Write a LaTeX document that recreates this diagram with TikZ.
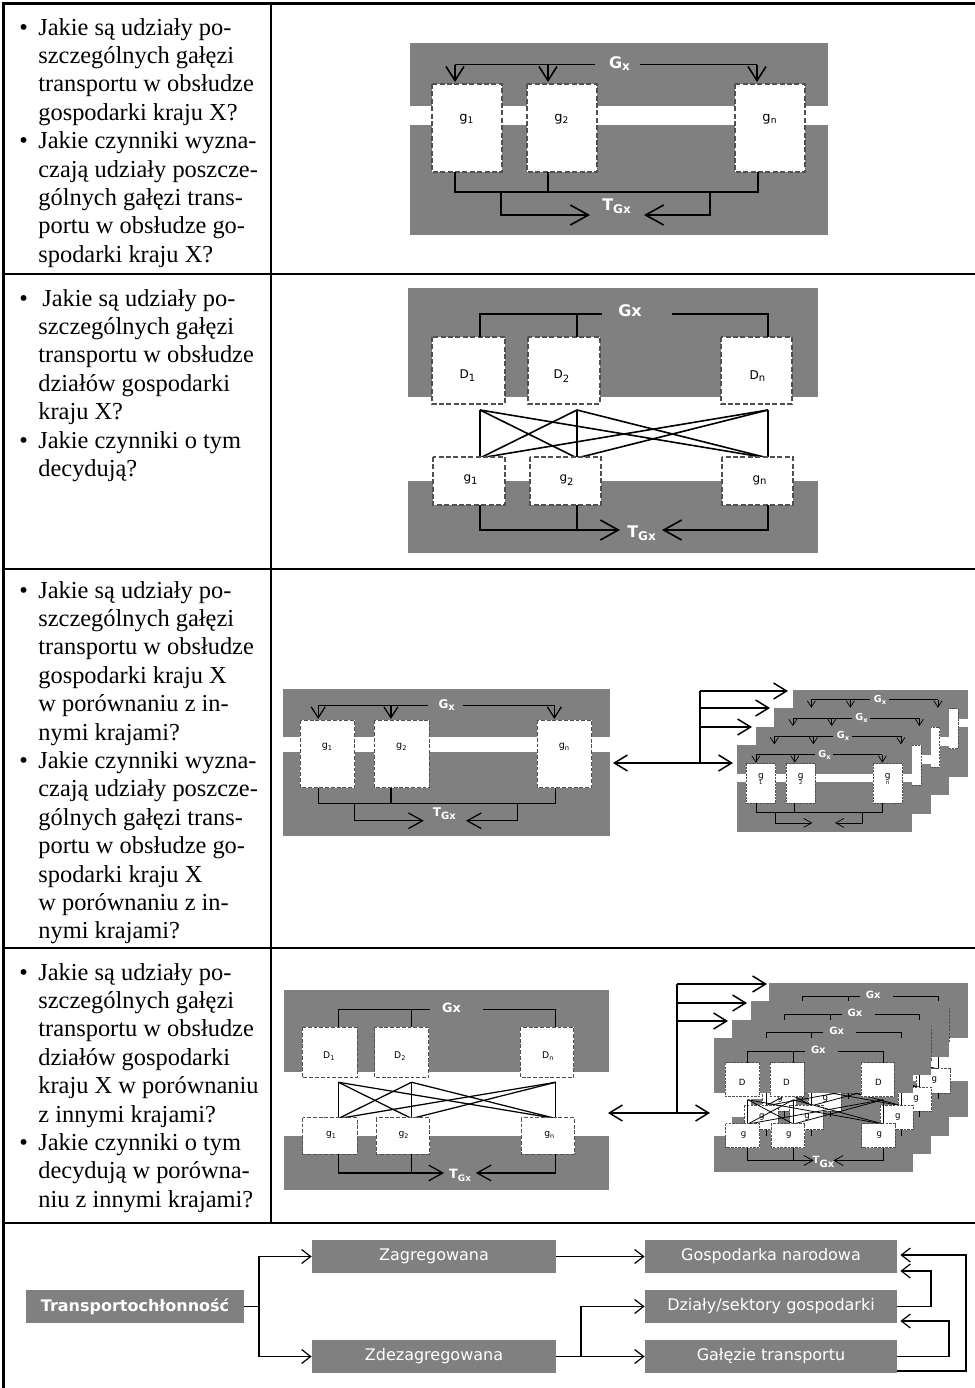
\documentclass[tikz,border=0pt]{standalone}
\usepackage{fontspec}
\setmainfont{Liberation Serif}
\newfontfamily\dvs{DejaVu Sans}
\usetikzlibrary{arrows.meta}
\definecolor{dgray}{RGB}{128,128,128}
\definecolor{boxedge}{RGB}{80,80,80}

\newcommand\bl{\makebox[9.5pt][l]{\textbullet}}
\newcommand\ind{\hspace*{9.5pt}}

% diagram settings: #1 scale of lines/arrows, #2 small label size, #3 bold label size
\newcommand\setd[3]{%
 \pgfmathsetmacro\dtA{0.8*#1}%
 \pgfmathsetmacro\dtB{0.65*#1}%
 \pgfmathsetmacro\dtC{2.5*#1}%
 \pgfmathsetmacro\dtD{1.2*#1}%
 \pgfmathsetmacro\dtE{7*#1}%
 \pgfmathsetmacro\dtF{9*#1}%
 \pgfmathsetmacro\dtG{9*#1}%
 \pgfmathsetmacro\dtH{10*#1}%
 \edef\dtmp{\noexpand\tikzset{%
   dln/.style={line width=\dtA pt},
   dbox/.style={draw=boxedge,fill=white,line width=\dtB pt,dash pattern=on \dtC pt off \dtD pt},
   dtipT/.style={-{Straight Barb[length=\dtE pt,width=\dtF pt]}},
   dtip/.style={-{Straight Barb[length=\dtG pt,width=\dtH pt]}},
   dlab/.style={font=\noexpand\dvs\noexpand\fontsize{#2}{#2}\noexpand\selectfont,inner sep=0pt,align=center},
   dbig/.style={font=\noexpand\dvs\noexpand\bfseries\noexpand\fontsize{#3}{#3}\noexpand\selectfont,text=white,inner sep=0pt}}}%
 \dtmp}

% diagram type A (branches of transport): #1 prefix, #2 x0, #3 y0, #4 xscale, #5 yscale
\newcommand\diagA[5]{%
\begin{scope}[shift={(#2,#3)},xscale=#4,yscale=#5]
 \fill[dgray] (0,0) rectangle (\dW,192);
 \fill[white] (0,63) rectangle (\dW,82);
 \draw[dbox] (22,41) rectangle (92,129);
 \draw[dbox] (117,41) rectangle (187,129);
 \draw[dbox] (325,41) rectangle (395,129);
 \node[dlab] (#1a) at (57,76) {\LgA};
 \node[dlab] (#1b) at (152,76) {\LgB};
 \node[dlab] (#1n) at (360,76) {\LgN};
 \node[dbig] (#1G) at (210,21) {\LGx};
 \draw[dln] (45,21.5) -- (185,21.5) (230,21.5) -- (347,21.5);
 \foreach \xx in {45,138,347} \draw[dln,dtipT] (\xx,21.5) -- (\xx,39);
 \draw[dln] (45,129) -- (45,149) -- (348,149) -- (348,129) (138,129) -- (138,149);
 \draw[dln,dtip] (91,149) -- (91,172) -- (180,172);
 \draw[dln,dtip] (300,149) -- (300,172) -- (234,172);
 \node[dbig] (#1T) at (207,163) {\LTgx};
\end{scope}}

% diagram type B (sectors and branches)
\newcommand\diagB[5]{%
\begin{scope}[shift={(#2,#3)},xscale=#4,yscale=#5]
 \fill[dgray] (0,0) rectangle (\dW,109);
 \fill[dgray] (0,193) rectangle (\dW,265);
 \draw[dbox] (24,49) rectangle (97,116);
 \draw[dbox] (120,49) rectangle (192,116);
 \draw[dbox] (313,49) rectangle (384,116);
 \node[dlab] (#1d1) at (60,88) {\LDa};
 \node[dlab] (#1d2) at (154,88) {\LDb};
 \node[dlab] (#1dn) at (350,88) {\LDn};
 \node[dbig] (#1G) at (222,23) {\LGx};
 \draw[dln] (72,49) -- (72,26) -- (194,26) (169,26) -- (169,49) (264,26) -- (360,26) -- (360,49);
 \foreach \xa in {72,169,360}{\foreach \xb in {72,169,360}{\draw[dln] (\xa,122) -- (\xb,170);}}
 \draw[dbox] (25,169) rectangle (97,217);
 \draw[dbox] (122,169) rectangle (193,217);
 \draw[dbox] (314,169) rectangle (385,217);
 \node[dlab] (#1g1) at (63,192) {\LgA};
 \node[dlab] (#1g2) at (159,192) {\LgB};
 \node[dlab] (#1gn) at (352,192) {\LgN};
 \draw[dln,dtip] (72,217) -- (72,242) -- (212,242);
 \draw[dln] (169,217) -- (169,242);
 \draw[dln,dtip] (360,217) -- (360,242) -- (254,242);
 \node[dbig] (#1T) at (234,245) {\LTgx};
\end{scope}}

\tikzset{
 tline/.style={line width=1.3pt, black},
 qtext/.style={anchor=base west, inner sep=0pt, font=\fontsize{12.2}{14.2}\selectfont},
 rbox/.style={fill=dgray, text=white, font=\dvs\fontsize{8}{9}\selectfont, minimum height=16.5pt, inner sep=0pt},
 rln/.style={line width=0.6pt},
 rarr/.style={line width=0.6pt, -{Straight Barb[length=4.5pt,width=7pt]}},
 cln/.style={line width=0.75pt},
 carr/.style={line width=0.75pt, -{Straight Barb[length=6.5pt,width=8pt]}},
 cdbl/.style={line width=0.75pt, {Straight Barb[length=6.5pt,width=8pt]}-{Straight Barb[length=6.5pt,width=8pt]}},
}

\begin{document}
\begin{tikzpicture}[x=0.5pt,y=-0.5pt]
\useasboundingbox (0,0) rectangle (975,1388);

% ---------- table ----------
\draw[tline] (3.5,1388) -- (3.5,3.5) -- (975,3.5);
\draw[tline] (271,3.5) -- (271,1223);
\foreach \yy in {274,569,948,1223} \draw[tline] (3.5,\yy) -- (975,\yy);

% ---------- questions ----------
\node[qtext] (q1) at (19,35) {\begin{tabular}[t]{@{}l@{}}
\bl Jakie są udziały po-\\
\ind szczególnych gałęzi\\
\ind transportu w obsłudze\\
\ind gospodarki kraju X?\\
\bl Jakie czynniki wyzna-\\
\ind czają udziały poszcze-\\
\ind gólnych gałęzi trans-\\
\ind portu w obsłudze go-\\
\ind spodarki kraju X?
\end{tabular}};

\node[qtext] (q2) at (19,306) {\begin{tabular}[t]{@{}l@{}}
\bl\hspace{2pt}Jakie są udziały po-\\
\ind szczególnych gałęzi\\
\ind transportu w obsłudze\\
\ind działów gospodarki\\
\ind kraju X?\\
\bl Jakie czynniki o tym\\
\ind decydują?
\end{tabular}};

\node[qtext] (q3) at (19,598) {\begin{tabular}[t]{@{}l@{}}
\bl Jakie są udziały po-\\
\ind szczególnych gałęzi\\
\ind transportu w obsłudze\\
\ind gospodarki kraju X\\
\ind w porównaniu z in-\\
\ind nymi krajami?\\
\bl Jakie czynniki wyzna-\\
\ind czają udziały poszcze-\\
\ind gólnych gałęzi trans-\\
\ind portu w obsłudze go-\\
\ind spodarki kraju X\\
\ind w porównaniu z in-\\
\ind nymi krajami?
\end{tabular}};

\node[qtext] (q4) at (19,980) {\begin{tabular}[t]{@{}l@{}}
\bl Jakie są udziały po-\\
\ind szczególnych gałęzi\\
\ind transportu w obsłudze\\
\ind działów gospodarki\\
\ind kraju X w porównaniu\\
\ind z innymi krajami?\\
\bl Jakie czynniki o tym\\
\ind decydują w porówna-\\
\ind niu z innymi krajami?
\end{tabular}};

% ---------- row 1 ----------
\def\dW{418}
\def\LgA{g\textsubscript{1}}\def\LgB{g\textsubscript{2}}\def\LgN{g\textsubscript{n}}
\def\LGx{G\textsubscript{x}}\def\LTgx{T\textsubscript{Gx}}
\setd{1}{6.5}{8}
\diagA{ra}{410}{43}{1}{1}

% ---------- row 2 ----------
\def\dW{410}
\def\LDa{D\textsubscript{1}}\def\LDb{D\textsubscript{2}}\def\LDn{D\textsubscript{n}}
\def\LGx{Gx}
\setd{1}{6}{8}
\diagB{rb}{408}{288}{1}{1}

% ---------- row 3 ----------
\def\dW{418}
\def\LGx{G\textsubscript{x}}
\setd{0.78}{4.8}{6}
\diagA{rc}{283}{689}{0.782}{0.766}
\def\LgA{g\\[-1.5pt]{\fontsize{2.6}{3}\selectfont 1}}
\def\LgB{g\\[-1.5pt]{\fontsize{2.6}{3}\selectfont 2}}
\def\LgN{g\\[-1.5pt]{\fontsize{2.6}{3}\selectfont n}}
\def\LTgx{}
\setd{0.45}{4.5}{4.8}
\diagA{sc3}{792.5}{690.1}{0.419}{0.453}
\diagA{sc2}{774}{708.4}{0.419}{0.453}
\diagA{sc1}{755.5}{726.7}{0.419}{0.453}
\diagA{sc0}{737}{745}{0.419}{0.453}

\coordinate (c3L) at (613,763);
\coordinate (c3R) at (733,763);
\coordinate (c3b) at (700,763);
\coordinate (c3t) at (700,691);
\coordinate (c3m) at (700,708);
\coordinate (c3n) at (700,727);
\draw[cdbl] (c3L) -- (c3R);
\draw[cln] (c3b) -- (c3t);
\draw[carr] (c3t) -- (788,691);
\draw[carr] (c3m) -- (770,708);
\draw[carr] (c3n) -- (752,727);

% ---------- row 4 ----------
\def\dW{430}
\def\LgA{g\textsubscript{1}}\def\LgB{g\textsubscript{2}}\def\LgN{g\textsubscript{n}}
\def\LGx{Gx}\def\LTgx{T\textsubscript{Gx}}
\setd{0.78}{4.6}{6.4}
\diagB{rd}{284}{990}{0.755}{0.756}
\def\dW{423}
\def\LDa{D}\def\LDb{D}\def\LDn{D}
\def\LgA{g}\def\LgB{g}\def\LgN{g}
\setd{0.5}{4.3}{5}
\diagB{sd3}{768.9}{983.1}{0.47}{0.506}
\diagB{sd2}{750.6}{1001.4}{0.47}{0.506}
\diagB{sd1}{732.3}{1019.7}{0.47}{0.506}
\diagB{sd0}{714}{1038}{0.47}{0.506}

\coordinate (c4L) at (608,1113);
\coordinate (c4R) at (710,1113);
\coordinate (c4b) at (677,1113);
\coordinate (c4t) at (677,984);
\coordinate (c4m) at (677,1003);
\coordinate (c4n) at (677,1021);
\draw[cdbl] (c4L) -- (c4R);
\draw[cln] (c4b) -- (c4t);
\draw[carr] (c4t) -- (767,984);
\draw[carr] (c4m) -- (747,1003);
\draw[carr] (c4n) -- (728,1021);

% ---------- row 5 ----------
\node[rbox, minimum width=109pt, font=\dvs\bfseries\fontsize{8}{9}\selectfont] (tr) at (135,1306.5) {Transportochłonność};
\node[rbox, minimum width=122pt] (zag) at (434,1256.5) {Zagregowana};
\node[rbox, minimum width=122pt] (zdez) at (434,1356.5) {Zdezagregowana};
\node[rbox, minimum width=126pt] (gos) at (771,1256.5) {Gospodarka narodowa};
\node[rbox, minimum width=126pt] (dzi) at (771,1306.5) {Działy/sektory gospodarki};
\node[rbox, minimum width=126pt] (gal) at (771,1356.5) {Gałęzie transportu};

\coordinate (b1) at (259,1306.5);
\coordinate (b2) at (581,1356.5);
\draw[rln] (tr.east) -- (b1);
\draw[rarr] (b1) |- (zag.west);
\draw[rarr] (b1) |- (zdez.west);
\draw[rarr] (zag.east) -- (gos.west);
\draw[rarr] (zdez.east) -- (gal.west);
\draw[rarr] (b2) |- (dzi.west);

\coordinate (r1) at (931,1271);
\coordinate (r2) at (949,1321);
\coordinate (r3) at (966,1255);
\coordinate (g3) at (897,1371);
\draw[rarr] (dzi.east) -| (r1) -- ([xshift=1.5pt]gos.east |- r1);
\draw[rarr] (gal.east) -| (r2) -- ([xshift=1.5pt]dzi.east |- r2);
\draw[rarr] (g3) -| (r3) -- ([xshift=1.5pt]gos.east |- r3);
\end{tikzpicture}
\end{document}
